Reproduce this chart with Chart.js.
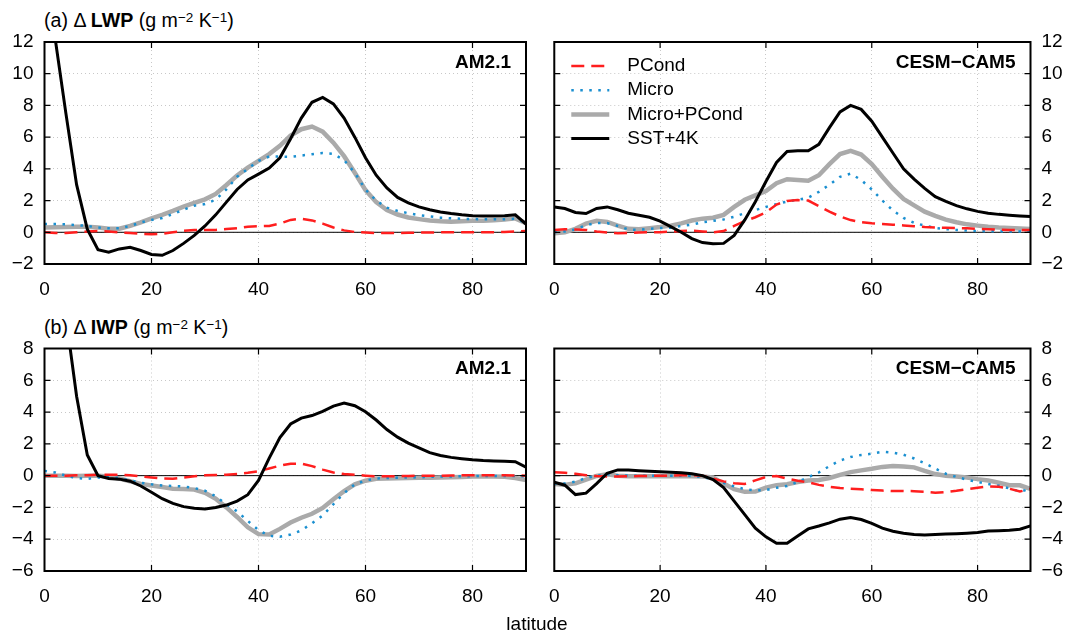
<!DOCTYPE html>
<html>
<head>
<meta charset="utf-8">
<script src="https://cdn.jsdelivr.net/npm/chart.js@4.4.1/dist/chart.umd.min.js"></script>
<style>
  html, body { margin: 0; padding: 0; background: #fff; }
  body { width: 1067px; height: 637px; position: relative; overflow: hidden;
         font-family: "Liberation Sans", Arial, sans-serif; color: #000; }
  .box { position: absolute; }
  .title { position: absolute; left: 44px; font-size: 19.6px; line-height: 19px; white-space: nowrap; }
  .title sup { font-size: 13.5px; vertical-align: 5px; line-height: 0; }
  #xlabel { position: absolute; top: 614px; left: 537px; transform: translateX(-50%);
            font-size: 19px; line-height: 19px; }
</style>
</head>
<body>
<div class="title" style="top:11px">(a) &Delta; <b>LWP</b> (g m<sup>&minus;2</sup> K<sup>&minus;1</sup>)</div>
<div class="title" style="top:318px">(b) &Delta; <b>IWP</b> (g m<sup>&minus;2</sup> K<sup>&minus;1</sup>)</div>

<div class="box" style="left:0;top:0;width:540px;height:310px"><canvas id="lwpAm"></canvas></div>
<div class="box" style="left:535px;top:0;width:532px;height:310px"><canvas id="lwpCe"></canvas></div>
<div class="box" style="left:0;top:310px;width:540px;height:327px"><canvas id="iwpAm"></canvas></div>
<div class="box" style="left:535px;top:310px;width:532px;height:327px"><canvas id="iwpCe"></canvas></div>

<div id="xlabel">latitude</div>

<script>
// latitude grid (deg), every 2 degrees
const lat = [0,2,4,6,8,10,12,14,16,18,20,22,24,26,28,30,32,34,36,38,40,42,44,
             46,48,50,52,54,56,58,60,62,64,66,68,70,72,74,76,78,80,82,84,86,88,90];

// tick labels
const xTicks = [0, 20, 40, 60, 80];
const lwpTicks = [-2, 0, 2, 4, 6, 8, 10, 12];
const iwpTicks = [-6, -4, -2, 0, 2, 4, 6, 8];

const seriesNames = ['PCond', 'Micro', 'Micro+PCond', 'SST+4K'];

// (a) LWP change, AM2.1
const amLwpPcond = [0.0,-0.05,-0.05,0.0,0.05,0.08,0.05,0.0,-0.05,-0.1,-0.12,-0.1,0.0,0.1,0.15,0.15,0.15,0.2,0.25,0.35,0.38,0.4,0.55,0.78,0.85,0.75,0.55,0.3,0.12,0.02,-0.02,-0.05,-0.05,-0.05,-0.03,-0.02,-0.01,0.0,0.0,0.0,0.0,0.01,0.01,0.02,0.05,0.08];
const amLwpMicro = [0.52,0.52,0.5,0.45,0.4,0.3,0.25,0.25,0.4,0.62,0.78,0.9,1.15,1.42,1.68,1.78,2.05,2.7,3.5,4.0,4.5,4.78,4.77,4.76,4.84,4.92,5.0,4.95,4.55,3.75,2.7,2.0,1.55,1.35,1.2,1.08,1.0,0.92,0.88,0.85,0.84,0.82,0.82,0.82,0.85,0.6];
const amLwpBoth  = [0.3,0.32,0.34,0.35,0.35,0.3,0.22,0.22,0.4,0.62,0.88,1.1,1.35,1.62,1.85,2.08,2.42,2.98,3.58,4.08,4.5,4.93,5.45,6.1,6.5,6.67,6.35,5.65,4.8,3.75,2.66,1.9,1.4,1.12,0.93,0.83,0.74,0.69,0.67,0.7,0.72,0.73,0.76,0.8,0.88,0.57];
const amLwpSst   = [16,12.2,7.5,3.0,0.2,-1.1,-1.25,-1.05,-0.95,-1.15,-1.4,-1.45,-1.15,-0.7,-0.2,0.4,1.1,1.9,2.7,3.3,3.67,4.05,4.7,5.9,7.2,8.2,8.5,8.1,7.2,6.0,4.7,3.6,2.8,2.2,1.85,1.6,1.42,1.28,1.18,1.1,1.05,1.03,1.03,1.05,1.1,0.52];

// (a) LWP change, CESM-CAM5
const ceLwpPcond = [0.15,0.19,0.18,0.15,0.05,-0.02,-0.06,-0.04,-0.01,0.0,0.0,0.04,0.08,0.1,0.05,0.0,0.08,0.4,0.7,0.95,1.25,1.75,1.98,2.03,2.0,1.65,1.3,1.0,0.77,0.64,0.57,0.52,0.48,0.43,0.38,0.33,0.3,0.28,0.26,0.25,0.22,0.19,0.17,0.15,0.15,0.15];
const ceLwpMicro = [0.0,0.05,0.18,0.45,0.58,0.58,0.4,0.18,0.15,0.22,0.27,0.29,0.4,0.48,0.63,0.72,0.81,0.98,1.2,1.4,1.6,1.77,1.94,2.05,2.18,2.55,3.0,3.5,3.7,3.3,2.7,2.0,1.38,0.9,0.6,0.42,0.27,0.2,0.15,0.11,0.08,0.07,0.06,0.05,0.05,0.04];
const ceLwpBoth  = [-0.06,0.0,0.22,0.55,0.72,0.65,0.42,0.22,0.19,0.26,0.33,0.42,0.56,0.74,0.86,0.92,1.1,1.6,2.05,2.33,2.6,3.1,3.35,3.3,3.25,3.6,4.3,4.93,5.14,4.9,4.3,3.5,2.75,2.1,1.7,1.3,1.03,0.8,0.63,0.5,0.42,0.35,0.3,0.27,0.24,0.21];
const ceLwpSst   = [1.6,1.5,1.25,1.18,1.5,1.6,1.42,1.2,1.08,0.95,0.7,0.36,0.0,-0.4,-0.65,-0.72,-0.7,-0.2,0.78,1.93,3.2,4.4,5.1,5.14,5.14,5.55,6.6,7.59,8.0,7.75,7.0,6.0,5.0,4.0,3.35,2.77,2.25,1.95,1.68,1.48,1.32,1.2,1.13,1.08,1.03,0.99];

// (b) IWP change, AM2.1
const amIwpPcond = [0.0,0.0,0.0,0.02,0.03,0.05,0.05,0.05,0.03,-0.05,-0.12,-0.18,-0.2,-0.12,-0.04,0.02,0.04,0.06,0.1,0.18,0.28,0.45,0.63,0.75,0.76,0.6,0.38,0.2,0.1,0.05,0.0,-0.04,-0.04,-0.03,-0.02,-0.01,0.0,0.0,0.01,0.02,0.02,0.02,0.02,0.02,0.01,0.0];
const amIwpMicro = [0.3,0.2,0.0,-0.15,-0.2,-0.12,-0.08,-0.15,-0.3,-0.45,-0.55,-0.62,-0.65,-0.68,-0.78,-0.95,-1.3,-1.8,-2.25,-2.85,-3.43,-3.78,-3.85,-3.7,-3.45,-3.0,-2.5,-1.8,-1.1,-0.55,-0.3,-0.18,-0.15,-0.13,-0.12,-0.1,-0.08,-0.06,-0.05,-0.04,-0.03,-0.02,-0.02,-0.02,-0.03,-0.05];
const amIwpBoth  = [0.0,0.0,0.0,-0.02,0.0,0.0,-0.05,-0.18,-0.35,-0.52,-0.62,-0.72,-0.82,-0.84,-0.88,-1.08,-1.45,-2.0,-2.6,-3.25,-3.68,-3.7,-3.35,-2.95,-2.65,-2.4,-2.03,-1.48,-0.98,-0.55,-0.32,-0.2,-0.18,-0.17,-0.15,-0.14,-0.13,-0.12,-0.1,-0.08,-0.06,-0.05,-0.05,-0.07,-0.15,-0.27];
const amIwpSst   = [20,15,10,5.0,1.3,0.0,-0.18,-0.22,-0.35,-0.65,-1.05,-1.45,-1.75,-1.95,-2.05,-2.1,-2.0,-1.85,-1.6,-1.2,-0.3,1.1,2.4,3.25,3.62,3.78,4.05,4.38,4.57,4.4,4.02,3.5,2.9,2.42,2.05,1.75,1.45,1.27,1.15,1.07,1.0,0.95,0.92,0.9,0.88,0.53];

// (b) IWP change, CESM-CAM5
const ceIwpPcond = [0.21,0.18,0.12,0.03,-0.03,-0.05,-0.06,-0.04,-0.03,-0.02,0.0,0.0,0.02,0.04,0.0,-0.18,-0.36,-0.48,-0.52,-0.3,-0.08,-0.02,-0.18,-0.32,-0.42,-0.58,-0.7,-0.78,-0.82,-0.86,-0.9,-0.94,-0.97,-0.96,-0.98,-1.01,-1.08,-1.03,-0.95,-0.85,-0.76,-0.68,-0.7,-0.82,-1.0,-0.84];
const ceIwpMicro = [-0.5,-0.5,-0.38,-0.15,0.0,0.08,0.02,0.0,0.0,0.0,0.0,0.0,0.0,-0.02,-0.08,-0.22,-0.45,-0.68,-0.85,-0.93,-0.9,-0.76,-0.65,-0.4,-0.1,0.2,0.6,0.95,1.17,1.3,1.38,1.5,1.45,1.32,1.08,0.78,0.45,0.12,-0.08,-0.25,-0.4,-0.53,-0.63,-0.8,-1.0,-0.84];
const ceIwpBoth  = [-0.53,-0.58,-0.48,-0.25,-0.02,0.08,0.0,-0.04,-0.04,-0.04,-0.04,-0.04,-0.04,-0.04,-0.06,-0.12,-0.5,-0.85,-1.02,-1.0,-0.75,-0.6,-0.54,-0.4,-0.3,-0.27,-0.15,0.05,0.22,0.33,0.43,0.55,0.6,0.58,0.52,0.3,0.1,0.0,-0.05,-0.12,-0.22,-0.3,-0.45,-0.6,-0.61,-0.84];
const ceIwpSst   = [-0.42,-0.6,-1.19,-1.1,-0.5,0.15,0.36,0.35,0.31,0.27,0.24,0.21,0.18,0.12,0.0,-0.25,-0.75,-1.6,-2.45,-3.3,-3.85,-4.25,-4.25,-3.8,-3.35,-3.17,-2.97,-2.74,-2.63,-2.76,-3.0,-3.3,-3.5,-3.62,-3.7,-3.73,-3.7,-3.67,-3.65,-3.62,-3.58,-3.48,-3.46,-3.43,-3.37,-3.16];

const FONT = '"Liberation Sans", Arial, sans-serif';

// line look per experiment (order: lower is drawn on top)
const looks = {
    'PCond':       { color: '#ff1e1e', width: 2.5, dash: [13, 7], order: 1 },
    'Micro':       { color: '#1a8fd0', width: 2.5, dash: [2.5, 6.5], order: 2 },
    'Micro+PCond': { color: '#aaaaaa', width: 4.5, dash: [], order: 3 },
    'SST+4K':      { color: '#000000', width: 3, dash: [], order: 0 },
};

const minus = v => (v < 0 ? '\u2212' + Math.abs(v) : String(v));

// frame, zero line, inward ticks, model name and (optional) legend
const framePlugin = {
    id: 'frame',
    beforeDatasetsDraw(chart) {
        const { ctx, chartArea: a, scales: { y } } = chart;
        const y0 = y.getPixelForValue(0);
        ctx.save();
        ctx.strokeStyle = '#000';
        ctx.lineWidth = 1;
        ctx.beginPath();
        ctx.moveTo(a.left, y0);
        ctx.lineTo(a.right, y0);
        ctx.stroke();
        ctx.restore();
    },
    afterDatasetsDraw(chart, args, opts) {
        const { ctx, chartArea: a, scales: { x, y } } = chart;
        ctx.save();
        ctx.strokeStyle = '#000';
        ctx.lineWidth = 1.2;
        ctx.beginPath();
        x.ticks.forEach(t => {
            const px = x.getPixelForValue(t.value);
            if (px < a.left + 1 || px > a.right - 1) return;
            ctx.moveTo(px, a.bottom); ctx.lineTo(px, a.bottom - 6);
            ctx.moveTo(px, a.top); ctx.lineTo(px, a.top + 6);
        });
        y.ticks.forEach(t => {
            const py = y.getPixelForValue(t.value);
            if (py < a.top + 1 || py > a.bottom - 1) return;
            ctx.moveTo(a.left, py); ctx.lineTo(a.left + 6, py);
            ctx.moveTo(a.right, py); ctx.lineTo(a.right - 6, py);
        });
        ctx.stroke();
        ctx.lineWidth = 2;
        ctx.strokeRect(a.left, a.top, a.right - a.left, a.bottom - a.top);

        // model name, top right inside the frame
        ctx.fillStyle = '#000';
        ctx.font = 'bold 19px ' + FONT;
        ctx.textAlign = 'right';
        ctx.textBaseline = 'middle';
        ctx.fillText(opts.name, a.right - 15, a.top + 20.5);

        if (opts.legend) {
            ctx.font = '19px ' + FONT;
            ctx.textAlign = 'left';
            seriesNames.forEach((name, i) => {
                const ds = chart.data.datasets.find(d => d.label === name);
                const ly = a.top + 24 + i * 24.2;
                ctx.strokeStyle = ds.borderColor;
                ctx.lineWidth = ds.borderWidth;
                ctx.setLineDash(ds.borderDash);
                ctx.beginPath();
                ctx.moveTo(a.left + 17, ly);
                ctx.lineTo(a.left + 55, ly);
                ctx.stroke();
                ctx.setLineDash([]);
                ctx.fillText(name, a.left + 73, ly);
            });
        }
        ctx.restore();
    }
};

function makePanel(id, series, yMin, yMax, yTicks, side, name, padding, xHeight, legend) {
    const yWidth = side === 'left' ? 44.5 : 36.5;
    const datasets = seriesNames.map((label, i) => ({
        label: label,
        data: lat.map((v, k) => ({ x: v, y: series[i][k] })),
        borderColor: looks[label].color,
        borderWidth: looks[label].width,
        borderDash: looks[label].dash,
        order: looks[label].order,
        pointRadius: 0,
        tension: 0,
        fill: false,
    }));

    return new Chart(document.getElementById(id), {
        type: 'line',
        data: { datasets: datasets },
        plugins: [framePlugin],
        options: {
            responsive: true,
            maintainAspectRatio: false,
            animation: false,
            layout: { padding: padding },
            plugins: {
                legend: { display: false },
                tooltip: { enabled: false },
                frame: { name: name, legend: legend },
            },
            scales: {
                x: {
                    type: 'linear',
                    min: 0,
                    max: 90,
                    afterBuildTicks: s => { s.ticks = xTicks.map(v => ({ value: v })); },
                    afterFit: s => { s.height = xHeight; },
                    grid: { color: '#c8c8c8', lineWidth: 1, drawTicks: false },
                    border: { display: false, dash: [1, 3] },
                    ticks: {
                        font: { family: FONT, size: 19 },
                        color: '#000',
                        padding: 14,
                        autoSkip: false,
                        maxRotation: 0,
                        callback: v => minus(v),
                    },
                },
                y: {
                    type: 'linear',
                    position: side,
                    min: yMin,
                    max: yMax,
                    afterBuildTicks: s => { s.ticks = yTicks.map(v => ({ value: v })); },
                    afterFit: s => { s.width = yWidth; },
                    grid: { color: '#c8c8c8', lineWidth: 1, drawTicks: false },
                    border: { display: false, dash: [1, 3] },
                    ticks: {
                        font: { family: FONT, size: 19 },
                        color: '#000',
                        padding: 11,
                        autoSkip: false,
                        callback: v => minus(v),
                    },
                },
            },
        },
    });
}

makePanel('lwpAm', [amLwpPcond, amLwpMicro, amLwpBoth, amLwpSst], -2, 12, lwpTicks, 'left', 'AM2.1',
          { top: 42, right: 14, left: 0, bottom: 0 }, 46, false);
makePanel('lwpCe', [ceLwpPcond, ceLwpMicro, ceLwpBoth, ceLwpSst], -2, 12, lwpTicks, 'right', 'CESM\u2212CAM5',
          { top: 42, right: 0, left: 14.5, bottom: 0 }, 46, true);
makePanel('iwpAm', [amIwpPcond, amIwpMicro, amIwpBoth, amIwpSst], -6, 8, iwpTicks, 'left', 'AM2.1',
          { top: 38.5, right: 14, left: 0, bottom: 0 }, 66, false);
makePanel('iwpCe', [ceIwpPcond, ceIwpMicro, ceIwpBoth, ceIwpSst], -6, 8, iwpTicks, 'right', 'CESM\u2212CAM5',
          { top: 38.5, right: 0, left: 14.5, bottom: 0 }, 66, false);
</script>
</body>
</html>
